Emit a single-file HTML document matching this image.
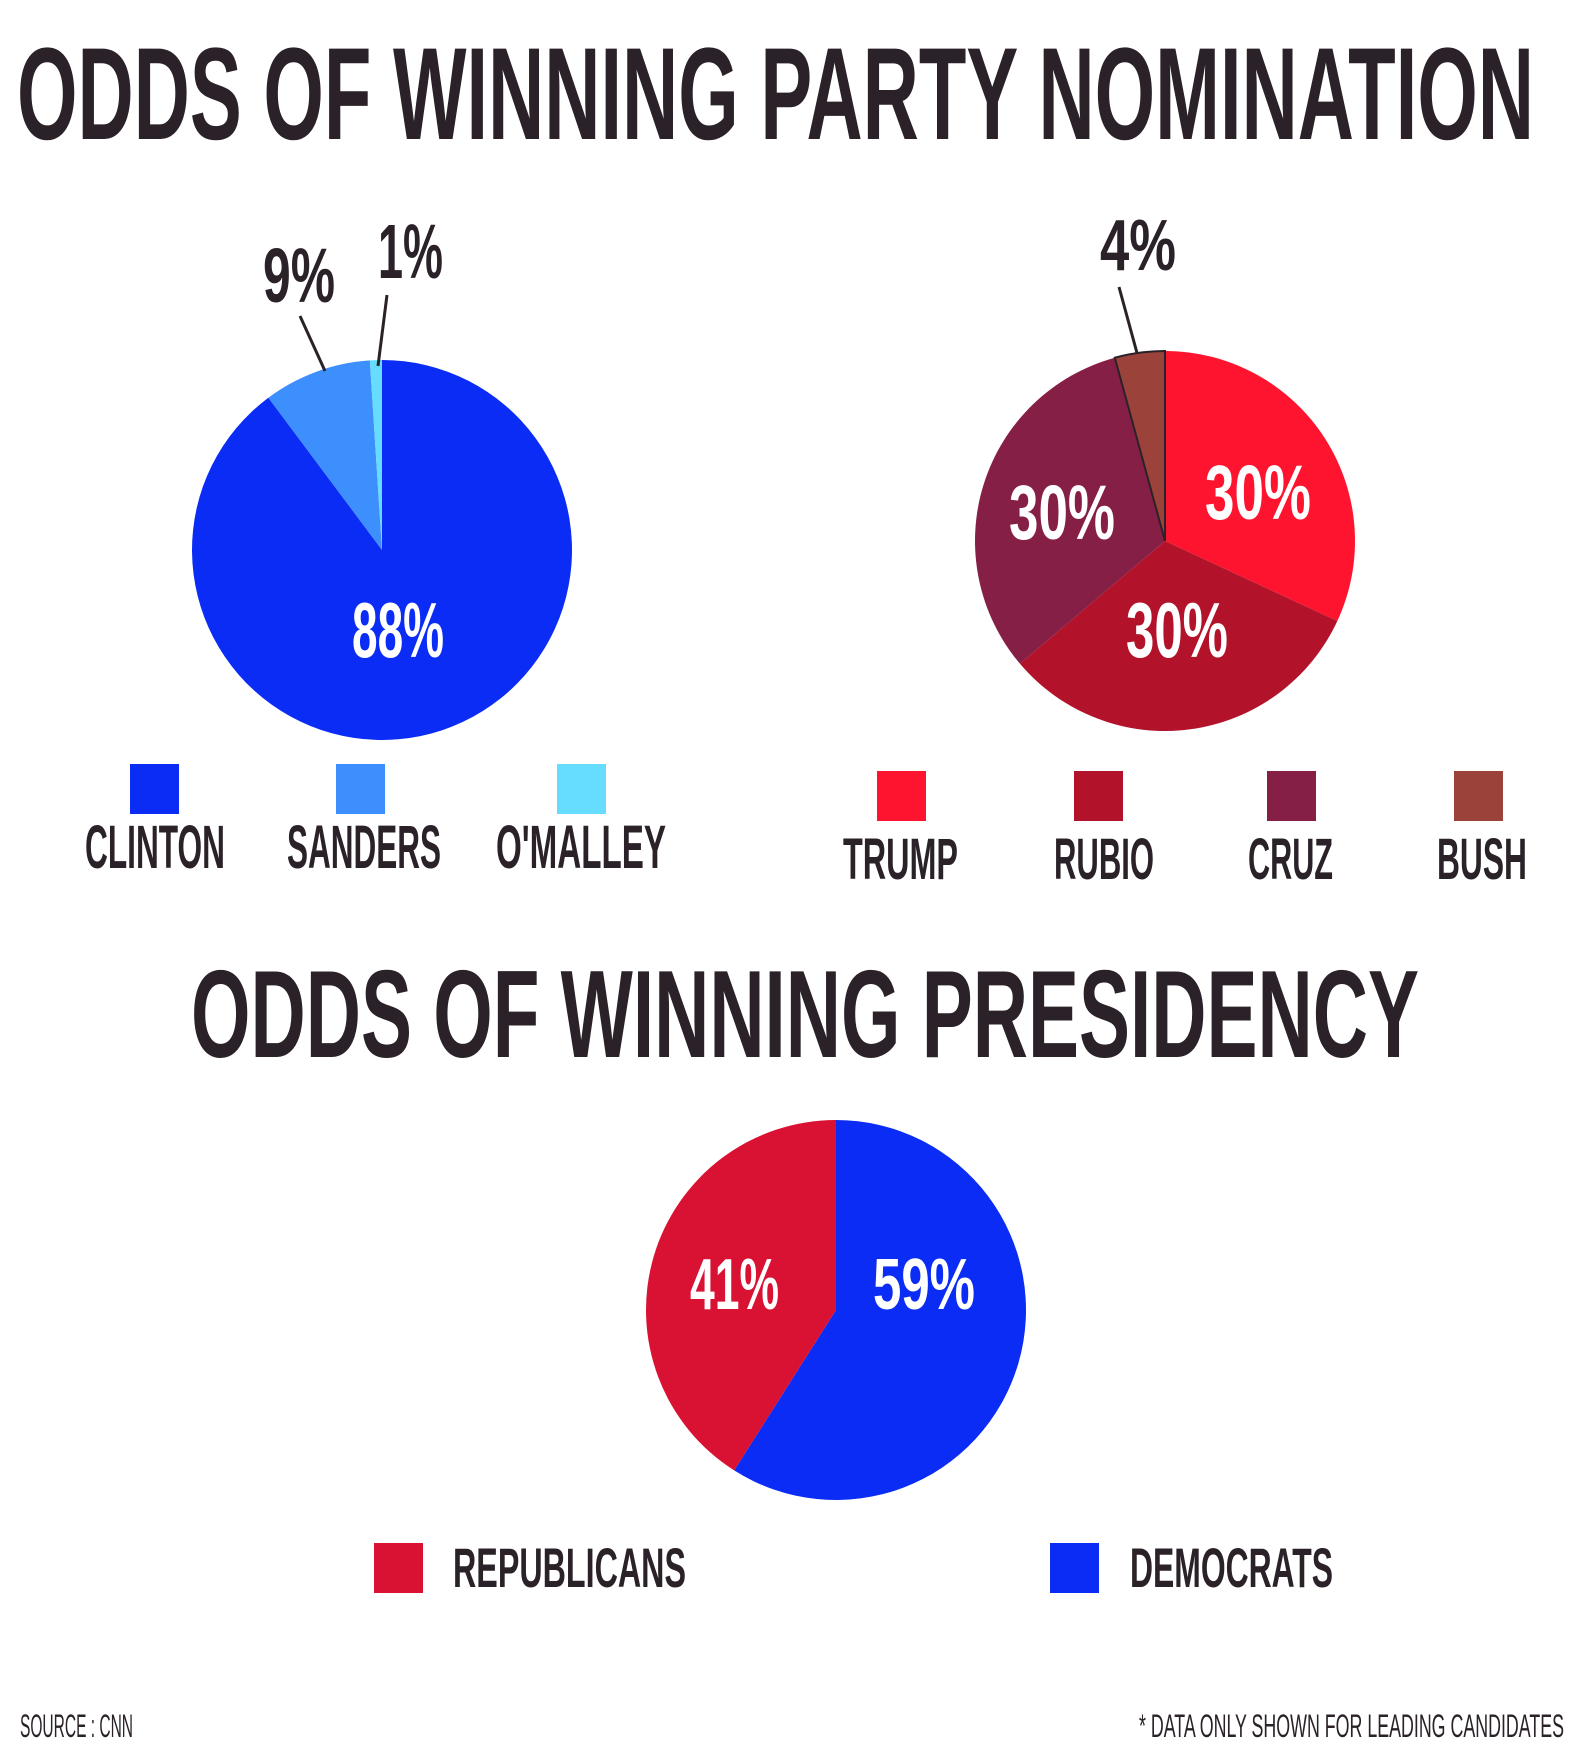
<!DOCTYPE html>
<html><head><meta charset="utf-8"><style>
html,body{margin:0;padding:0;background:#fff;}
svg{display:block;}
</style></head><body>
<svg id="chart" width="1588" height="1744" viewBox="0 0 1588 1744" xmlns="http://www.w3.org/2000/svg" font-family="'Liberation Sans Narrow','Liberation Sans',sans-serif" font-weight="bold"></svg>
<script>
const demNames = ["CLINTON","SANDERS","O'MALLEY"];
const demValues = [88, 9, 1];
const demColors = ["#0a2cf5","#3d8ffd","#66ddff"];
const repNames = ["TRUMP","RUBIO","CRUZ","BUSH"];
const repValues = [30, 30, 30, 4];
const repColors = ["#fe142e","#b3132a","#861f45","#9b423a"];
const presNames = ["DEMOCRATS","REPUBLICANS"];
const presValues = [59, 41];
const presColors = ["#0a2cf5","#d91233"];

const NS = "http://www.w3.org/2000/svg";
const svg = document.getElementById('chart');
const INK = "#2a2228";
const CAP = 0.716;

function mk(tag, attrs, parent){
  const e = document.createElementNS(NS, tag);
  for (const k in attrs) e.setAttribute(k, attrs[k]);
  (parent||svg).appendChild(e);
  return e;
}
// text fitted into box x0..x1, cap top..bottom
function txt(str, x0, x1, top, bottom, fill, weight){
  const h = bottom - top;
  const t = mk('text', {x:x0, y:bottom, 'font-size':(h/CAP).toFixed(1), fill:fill,
    textLength:(x1-x0), lengthAdjust:'spacingAndGlyphs'});
  if (weight) t.setAttribute('font-weight', weight);
  t.textContent = str;
  return t;
}
function angleScale(values){
  const tot = values.reduce((a,b)=>a+b,0);
  return v => v/tot*2*Math.PI;
}
function pt(cx,cy,r,a){ return [cx + r*Math.sin(a), cy - r*Math.cos(a)]; }
function pie(values, colors, names, cx, cy, r, group, strokeLast){
  const sc = angleScale(values);
  let a0 = 0;
  values.forEach((v,i)=>{
    const a1 = a0 + sc(v);
    const p0 = pt(cx,cy,r,a0), p1 = pt(cx,cy,r,a1);
    const large = (a1-a0) > Math.PI ? 1 : 0;
    const d = `M${cx},${cy} L${p0[0].toFixed(2)},${p0[1].toFixed(2)} A${r},${r} 0 ${large} 1 ${p1[0].toFixed(2)},${p1[1].toFixed(2)} Z`;
    const s = mk('path', {d:d, fill:colors[i]}, group);
    if (strokeLast && i === values.length-1){ s.setAttribute('stroke', INK); s.setAttribute('stroke-width','2'); }
    
    
    a0 = a1;
  });
}

// Titles
let t = txt("ODDS OF WINNING PARTY NOMINATION", 17, 1534, 45, 139, INK);


t = txt("ODDS OF WINNING PRESIDENCY", 191, 1419, 968, 1057, INK);



// Democratic pie
const g1 = mk('g', {});


pie(demValues, demColors, demNames, 382, 550, 190, g1, false);
t = txt(demValues[0] + "%", 352, 444, 601, 657, "#fff");  
t = txt(demValues[1] + "%", 263, 335, 247, 302, INK);  
t = txt(demValues[2] + "%", 378, 443, 223, 278, INK);  
let l = mk('line', {x1:300,y1:316,x2:325,y2:371,stroke:INK,'stroke-width':3});  
l = mk('line', {x1:387,y1:295,x2:378,y2:366,stroke:INK,'stroke-width':3});  

// Republican pie
const g2 = mk('g', {});


pie(repValues, repColors, repNames, 1165, 541, 190, g2, true);
t = txt(repValues[0] + "%", 1205, 1311, 464, 519, "#fff");  
t = txt(repValues[1] + "%", 1126, 1228, 601, 657, "#fff");  
t = txt(repValues[2] + "%", 1009, 1115, 484, 539, "#fff");  
t = txt(repValues[3] + "%", 1100, 1176, 218, 270, INK);  
l = mk('line', {x1:1119,y1:287,x2:1137,y2:353,stroke:INK,'stroke-width':3});  

// Presidency pie
const g3 = mk('g', {});


pie(presValues, presColors, presNames, 836, 1310, 190, g3, false);
t = txt(presValues[0] + "%", 873, 975, 1257, 1309, "#fff");  
t = txt(presValues[1] + "%", 690, 779, 1257, 1309, "#fff");  

// Legends
const demSq = [130, 336, 557];
const demLab = [[85,225],[287,441],[496,666]];
demNames.forEach((n,i)=>{
  const r = mk('rect', {x:demSq[i], y:764, width:49, height:50, fill:demColors[i]});
  
  
  const tt = txt(n, demLab[i][0], demLab[i][1], 824, 868, INK);
  
  
});
const repSq = [877, 1074, 1267, 1454];
const repLab = [[843,958],[1054,1154],[1248,1333],[1437,1527]];
repNames.forEach((n,i)=>{
  const r = mk('rect', {x:repSq[i], y:771, width:49, height:50, fill:repColors[i]});
  
  
  const tt = txt(n, repLab[i][0], repLab[i][1], 837, 879, INK);
  
  
});
const presSq = [1050, 374];
const presLab = [[1130,1333],[453,686]];
presNames.forEach((n,i)=>{
  const r = mk('rect', {x:presSq[i], y:1543, width:49, height:50, fill:presColors[i]});
  
  
  const tt = txt(n, presLab[i][0], presLab[i][1], 1547, 1587, INK);
  
  
});

// Footer
t = txt("SOURCE : CNN", 20, 133, 1714, 1737, INK, "normal");


t = txt("* DATA ONLY SHOWN FOR LEADING CANDIDATES", 1139, 1564, 1714, 1737, INK, "normal");


</script>
</body></html>
